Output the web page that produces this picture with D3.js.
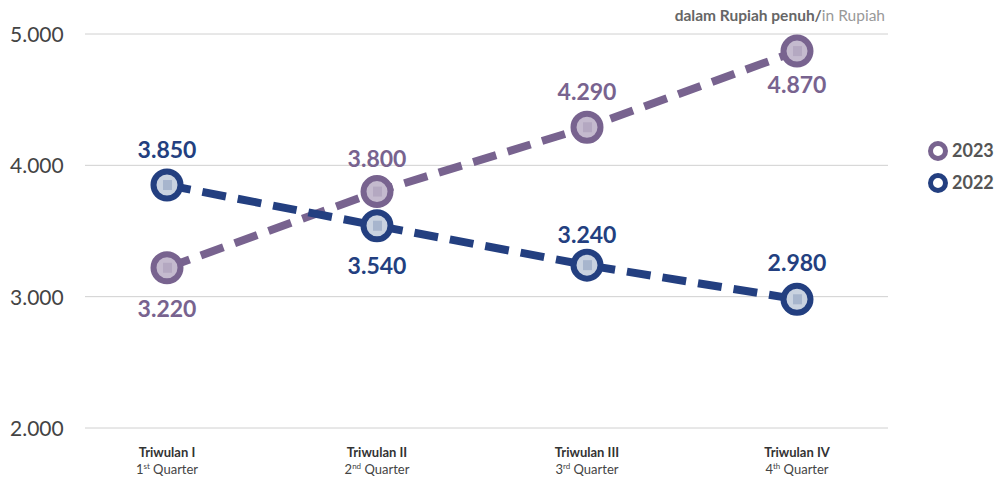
<!DOCTYPE html>
<html>
<head>
<meta charset="utf-8">
<script src="https://cdn.jsdelivr.net/npm/d3@7"></script>
<style>
  body { margin: 0; background: #fff; }
  text { font-family: Lato, "Open Sans", sans-serif; }
</style>
</head>
<body>
<div class="chart"></div>
<script>
var quarters = ['Triwulan I', 'Triwulan II', 'Triwulan III', 'Triwulan IV'];
var quarterNum = ['1', '2', '3', '4'];
var quarterSup = ['st', 'nd', 'rd', 'th'];
var values2023 = [3220, 3800, 4290, 4870];
var values2022 = [3850, 3540, 3240, 2980];
var yTicks = [2000, 3000, 4000, 5000];
var tickLabels = ['2.000', '3.000', '4.000', '5.000'];
var labels2023 = ['3.220', '3.800', '4.290', '4.870'];
var labels2022 = ['3.850', '3.540', '3.240', '2.980'];

var width = 1003, height = 479;
var svg = d3.select('.chart').append('svg').attr('width', width).attr('height', height);

var x = d3.scalePoint().domain(quarters).range([167, 797]);
var y = d3.scaleLinear().domain([2000, 5000]).range([428, 34]);

// grid
svg.selectAll('.grid').data(yTicks).enter().append('line')
  .attr('x1', 85).attr('x2', 888)
  .attr('y1', function(d){ return y(d); }).attr('y2', function(d){ return y(d); })
  .style('stroke', '#d0d0d0').style('stroke-width', 1);

svg.selectAll('.ytick').data(yTicks).enter().append('text')
  .attr('x', 10).attr('y', function(d){ return y(d) + 8; })
  .style('font-size', '21px').style('fill', '#444')
  .text(function(d, i){ return tickLabels[i]; });

// header
var head = svg.append('text').attr('x', 885).attr('y', 21).attr('text-anchor', 'end').style('font-size', '15.5px');
head.append('tspan').style('font-weight', 'bold').style('fill', '#666').text('dalam Rupiah penuh/');
head.append('tspan').style('fill', '#999').text('in Rupiah');

// x labels
quarters.forEach(function(q, i){
  svg.append('text').attr('x', x(q)).attr('y', 457).attr('text-anchor', 'middle')
    .style('font-size', '13px').style('font-weight', 'bold').style('fill', '#333').text(q);
  var t = svg.append('text').attr('x', x(q)).attr('y', 474).attr('text-anchor', 'middle')
    .style('font-size', '13px').style('fill', '#444');
  t.append('tspan').text(quarterNum[i]);
  t.append('tspan').attr('dy', -5).style('font-size', '8px').text(quarterSup[i]);
  t.append('tspan').attr('dy', 5).text(' Quarter');
});

var series = [
  {name: '2023', values: values2023, labels: labels2023, color: '#78638f', inner: '#c4bace', dy: [49, -25, -27, 42]},
  {name: '2022', values: values2022, labels: labels2022, color: '#233f80', inner: '#c9d2e0', dy: [-27, 48, -22, -28]}
];

var line = d3.line().x(function(d, i){ return x(quarters[i]); }).y(function(d){ return y(d); });

series.forEach(function(s){
  svg.append('path').datum(s.values).attr('d', line)
    .style('fill', 'none').style('stroke', s.color).style('stroke-width', 8)
    .style('stroke-dasharray', '24 12');
});

series.forEach(function(s){
  var g = svg.append('g');
  g.selectAll('circle').data(s.values).enter().append('circle')
    .attr('cx', function(d, i){ return x(quarters[i]); })
    .attr('cy', function(d){ return y(d); })
    .attr('r', 13.5)
    .style('fill', s.inner).style('stroke', s.color).style('stroke-width', 6);
  g.selectAll('rect').data(s.values).enter().append('rect')
    .attr('x', function(d, i){ return x(quarters[i]) - 4; })
    .attr('y', function(d){ return y(d) - 5; })
    .attr('width', 9).attr('height', 10)
    .style('fill', s.color).style('opacity', 0.2);
  g.selectAll('text').data(s.values).enter().append('text')
    .attr('x', function(d, i){ return x(quarters[i]); })
    .attr('y', function(d, i){ return y(d) + s.dy[i]; })
    .attr('text-anchor', 'middle')
    .style('font-size', '23px').style('font-weight', 'bold').style('fill', s.color)
    .text(function(d, i){ return s.labels[i]; });
});

// legend
series.forEach(function(s, i){
  var ly = 151 + i * 32;
  svg.append('circle').attr('cx', 938).attr('cy', ly).attr('r', 7.5)
    .style('fill', '#fff').style('stroke', s.color).style('stroke-width', 5);
  svg.append('text').attr('x', 952).attr('y', ly + 6)
    .style('font-size', '18px').style('font-weight', 'bold').style('fill', '#555').text(s.name);
});
</script>
</body>
</html>
